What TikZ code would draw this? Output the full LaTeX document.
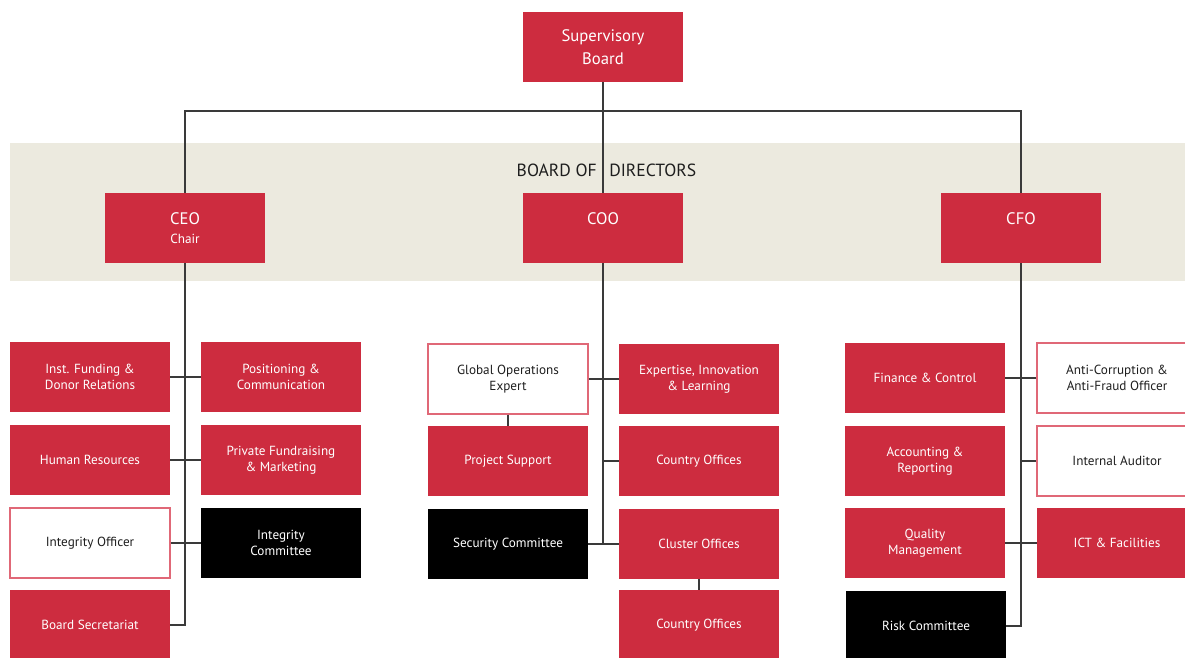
\documentclass[tikz,border=0pt]{standalone}
\usepackage{fontspec}
\setmainfont{PT Sans}
\definecolor{brand}{HTML}{CD2C3F}
\definecolor{brandlight}{HTML}{E06877}
\definecolor{band}{HTML}{ECEADF}
\definecolor{ink}{HTML}{1E1E1E}
\definecolor{linegray}{HTML}{3A3A3A}
\begin{document}
\begin{tikzpicture}[x=0.75pt,y=-0.75pt,
  unit/.style={minimum width=120pt, minimum height=52.5pt, inner sep=0pt,
    align=center, font=\fontsize{9.9}{12.3}\selectfont},
  redbox/.style={unit, fill=brand, text=white},
  whitebox/.style={unit, fill=white, draw=brandlight, line width=0.9pt, text=ink},
  blackbox/.style={unit, fill=black, text=white},
  headbox/.style={redbox, font=\fontsize{12.5}{17}\selectfont},
  link/.style={draw=linegray, line width=1.1pt},
  bandtext/.style={inner sep=0pt, text=ink, font=\fontsize{13.2}{15}\selectfont}
]
\useasboundingbox (0,0) rectangle (1185,657);
\clip (0,0) rectangle (1185,657);

% board of directors band
\fill[band] (10,143) rectangle (1200,281);
\node[bandtext, anchor=east] (bodl) at (597,170) {BOARD OF};
\node[bandtext, anchor=west] (bodr) at (609,170) {DIRECTORS};

% top level
\node[headbox] (sb) at (603,47) {Supervisory\\Board};
\node[headbox] (ceo) at (185,228) {CEO\\[-3pt]{\fontsize{9.9}{11}\selectfont Chair}};
\node[headbox] (coo) at (603,228) {COO\\[-3pt]{\fontsize{9.9}{11}\selectfont\phantom{Chair}}};
\node[headbox] (cfo) at (1021,228) {CFO\\[-3pt]{\fontsize{9.9}{11}\selectfont\phantom{Chair}}};

% CEO units
\node[redbox]   (inst) at (90,377)  {Inst. Funding \&\\Donor Relations};
\node[redbox]   (pos)  at (281,377) {Positioning \&\\Communication};
\node[redbox]   (hr)   at (90,460)  {Human Resources};
\node[redbox]   (pf)   at (281,460) {Private Fundraising\\\& Marketing};
\node[whitebox] (io)   at (90,543)  {Integrity Officer};
\node[blackbox] (ic)   at (281,543) {Integrity\\Committee};
\node[redbox]   (bs)   at (90,625)  {Board Secretariat};

% COO units
\node[whitebox] (goe)  at (508,379) {Global Operations\\Expert};
\node[redbox]   (eil)  at (699,379) {Expertise, Innovation\\\& Learning};
\node[redbox]   (ps)   at (508,461) {Project Support};
\node[redbox]   (co1)  at (699,461) {Country Offices};
\node[blackbox] (sec)  at (508,544) {Security Committee};
\node[redbox]   (clu)  at (699,544) {Cluster Offices};
\node[redbox]   (co2)  at (699,625) {Country Offices};

% CFO units
\node[redbox]   (fc)   at (925,378)  {Finance \& Control};
\node[whitebox] (anti) at (1117,378) {Anti-Corruption \&\\Anti-Fraud Officer};
\node[redbox]   (acc)  at (925,461)  {Accounting \&\\Reporting};
\node[whitebox] (ia)   at (1117,461) {Internal Auditor};
\node[redbox]   (qm)   at (925,543)  {Quality\\Management};
\node[redbox]   (ict)  at (1117,543) {ICT \& Facilities};
\node[blackbox] (risk) at (926,626)  {Risk Committee};

% reporting lines
\coordinate (bar) at (603,111);
\draw[link] (ceo.north) |- (bar) -| (cfo.north);
\draw[link] (sb.south) -- (coo.north);

\draw[link] (bs.east) -| (ceo.south);
\draw[link] (inst.east) -- (pos.west);
\draw[link] (hr.east) -- (pf.west);
\draw[link] (io.east) -- (ic.west);

\draw[link] (coo.south) -- (coo.south |- sec.east);
\draw[link] (goe.east) -- (eil.west);
\draw[link] (coo.south |- co1.west) -- (co1.west);
\draw[link] (sec.east) -- (clu.west);
\draw[link] (goe.south) -- (ps.north);
\draw[link] (clu.south) -- (co2.north);

\draw[link] (risk.east) -| (cfo.south);
\draw[link] (fc.east) -- (anti.west);
\draw[link] (cfo.south |- ia.west) -- (ia.west);
\draw[link] (qm.east) -- (ict.west);
\end{tikzpicture}
\end{document}
